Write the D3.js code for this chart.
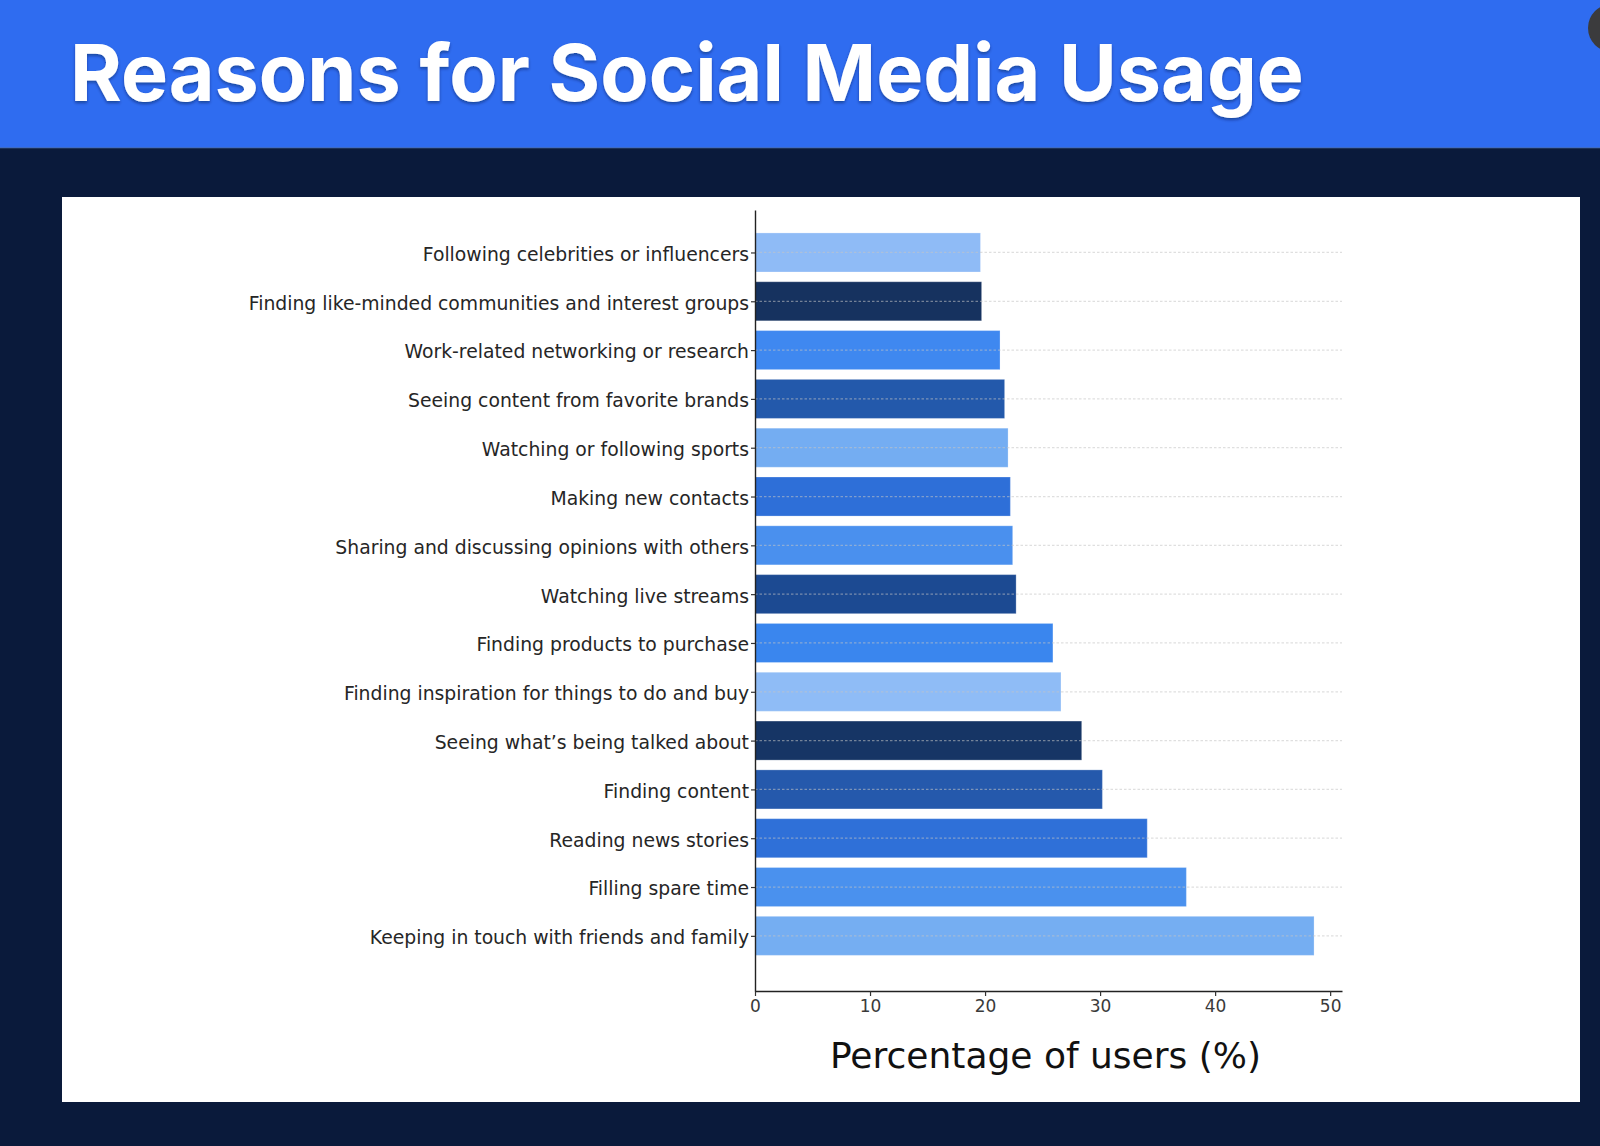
<!DOCTYPE html>
<html>
<head>
<meta charset="utf-8">
<script src="https://cdn.jsdelivr.net/npm/d3@7"></script>
<style>
  html, body { margin: 0; padding: 0; background: #0a1a3b; }
  svg { display: block; }
</style>
</head>
<body>
<svg id="chart" width="1600" height="1146"></svg>
<script>
// ---- data (top to bottom as displayed) ----
const categories = [
  "Following celebrities or influencers",
  "Finding like-minded communities and interest groups",
  "Work-related networking or research",
  "Seeing content from favorite brands",
  "Watching or following sports",
  "Making new contacts",
  "Sharing and discussing opinions with others",
  "Watching live streams",
  "Finding products to purchase",
  "Finding inspiration for things to do and buy",
  "Seeing what\u2019s being talked about",
  "Finding content",
  "Reading news stories",
  "Filling spare time",
  "Keeping in touch with friends and family"
];
const values = [19.6, 19.7, 21.3, 21.7, 22.0, 22.2, 22.4, 22.7, 25.9, 26.6, 28.4, 30.2, 34.1, 37.5, 48.6];
const barColors = [
  "#8fbbf6", "#16325f", "#3f88f0", "#2359ab", "#74adf2",
  "#2e6fd8", "#4a90ee", "#1c4a92", "#3a86ee", "#8fbcf6",
  "#163565", "#2559ac", "#2f70d8", "#4a91ee", "#75aef2"
];
const xTicks = [0, 10, 20, 30, 40, 50];
const titleText = "Reasons for Social Media Usage";
const xLabel = "Percentage of users (%)";

// ---- drawing ----
const svg = d3.select("#chart");

svg.append("rect").attr("x", 0).attr("y", 0).attr("width", 1600).attr("height", 1146).attr("fill", "#0a1a3b");
svg.append("rect").attr("x", 0).attr("y", 0).attr("width", 1600).attr("height", 148).attr("fill", "#2f6cf0");
svg.append("rect").attr("x", 0).attr("y", 147).attr("width", 1600).attr("height", 1.5).attr("fill", "#4a6aa8").attr("opacity", 0.6);
svg.append("circle").attr("cx", 1612).attr("cy", 28).attr("r", 24).attr("fill", "#3b3b3d");

const defs = svg.append("defs");
const f = defs.append("filter").attr("id", "tshadow").attr("x", "-5%").attr("y", "-20%").attr("width", "110%").attr("height", "150%");
f.append("feDropShadow").attr("dx", 0).attr("dy", 2).attr("stdDeviation", 1.5).attr("flood-color", "#0a1a3b").attr("flood-opacity", 0.45);

svg.append("text")
  .attr("x", 70).attr("y", 101)
  .attr("font-family", "Inter, Roboto, sans-serif")
  .attr("font-weight", 700)
  .attr("font-size", 79)
  .attr("fill", "#ffffff")
  .attr("filter", "url(#tshadow)")
  .text(titleText);

// white panel
svg.append("rect").attr("x", 62).attr("y", 197).attr("width", 1518).attr("height", 905).attr("fill", "#ffffff");

const n = categories.length;
const x = d3.scaleLinear().domain([0, d3.max(values) * 1.05]).range([755, 1342]);
const y = d3.scaleLinear().domain([-0.87, n + 0.13]).range([210, 991]);
const barH = (y(1) - y(0)) * 0.8;

const g = svg.append("g");

// bars
g.selectAll("rect.bar").data(values).join("rect")
  .attr("class", "bar")
  .attr("x", x(0))
  .attr("y", (d, i) => y(i) - barH / 2)
  .attr("width", d => x(d) - x(0))
  .attr("height", barH)
  .attr("fill", (d, i) => barColors[i])
  .attr("stroke", "#ffffff")
  .attr("stroke-opacity", 0.25)
  .attr("stroke-width", 1);

// grid lines (on top)
g.selectAll("line.grid").data(d3.range(n)).join("line")
  .attr("class", "grid")
  .attr("x1", x(0)).attr("x2", x.range()[1])
  .attr("y1", d => y(d)).attr("y2", d => y(d))
  .attr("stroke", "#c4c4c4")
  .attr("stroke-opacity", 0.55)
  .attr("stroke-width", 1.2)
  .attr("stroke-dasharray", "2.5,2");

// x axis
const xAxis = g.append("g")
  .attr("transform", `translate(0,${y.range()[1]})`)
  .call(d3.axisBottom(x).tickValues(xTicks).tickSize(5).tickSizeOuter(0).tickPadding(4));
xAxis.select(".domain").attr("stroke", "#222").attr("stroke-width", 1.4);
xAxis.selectAll(".tick line").attr("stroke", "#333").attr("stroke-width", 1.2);
xAxis.selectAll(".tick text")
  .attr("font-family", "DejaVu Sans, sans-serif")
  .attr("font-size", 17)
  .attr("fill", "#3a3a3a");

// y axis
const yAxis = g.append("g")
  .attr("transform", `translate(${x(0)},0)`)
  .call(d3.axisLeft(y).tickValues(d3.range(n)).tickFormat(i => categories[i]).tickSize(4).tickSizeOuter(0).tickPadding(2));
yAxis.select(".domain").attr("stroke", "#222").attr("stroke-width", 1.4);
yAxis.selectAll(".tick line").attr("stroke", "#333").attr("stroke-width", 1.2);
yAxis.selectAll(".tick text")
  .attr("font-family", "DejaVu Sans, sans-serif")
  .attr("font-size", 18.8)
  .attr("dy", "0.42em")
  .attr("fill", "#262626");

// x label
svg.append("text")
  .attr("x", (x.range()[0] + x.range()[1]) / 2 - 3)
  .attr("y", 1068)
  .attr("text-anchor", "middle")
  .attr("font-family", "DejaVu Sans, sans-serif")
  .attr("font-size", 36)
  .attr("fill", "#111")
  .text(xLabel);
</script>
</body>
</html>
